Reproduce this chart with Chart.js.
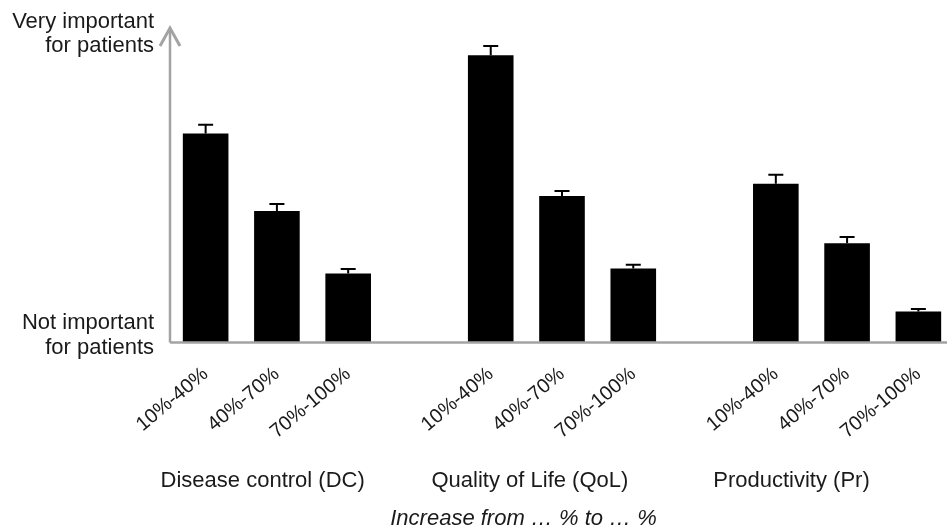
<!DOCTYPE html>
<html>
<head>
<meta charset="utf-8">
<script src="https://cdn.jsdelivr.net/npm/chart.js@4.4.1/dist/chart.umd.min.js"></script>
<style>
  html, body { margin: 0; padding: 0; background: #fff; overflow: hidden; }
  #wrap { width: 954px; height: 529px; position: relative; }
</style>
</head>
<body>
<div id="wrap"><canvas id="c"></canvas></div>
<script>
// ---- Data (0 = not important, 100 = very important) ----
const groups = ['Disease control (DC)', 'Quality of Life (QoL)', 'Productivity (Pr)'];
const ranges = ['10%-40%', '40%-70%', '70%-100%'];
const dcValues  = [66.9, 42.1, 22.1];
const qolValues = [91.9, 46.9, 23.7];
const prValues  = [50.8, 31.8, 9.9];
const dcErrors  = [2.8, 2.2, 1.4];
const qolErrors = [3.0, 1.6, 1.2];
const prErrors  = [2.9, 2.0, 0.8];
const yTopLabel = ['Very important', 'for patients'];
const yBottomLabel = ['Not important', 'for patients'];
const xTitle = 'Increase from \u2026 % to \u2026 %';

// Build category table with an empty spacer slot between groups
const seriesValues = [dcValues, qolValues, prValues];
const seriesErrors = [dcErrors, qolErrors, prErrors];
const labels = [], values = [], errors = [];
seriesValues.forEach((vals, g) => {
  if (g > 0) { labels.push(''); values.push(null); errors.push(null); }
  vals.forEach((v, i) => { labels.push(ranges[i]); values.push(v); errors.push(seriesErrors[g][i]); });
});

const FONT = '"Liberation Sans", Arial, sans-serif';
const AXIS_COLOR = '#a3a3a3';
const TEXT_COLOR = '#1a1a1a';

const decorPlugin = {
  id: 'decor',
  afterDatasetsDraw(chart) {
    const ctx = chart.ctx;
    const area = chart.chartArea;
    const ys = chart.scales.y;
    const xs = chart.scales.x;
    const meta = chart.getDatasetMeta(0);
    // error bars (upper half with cap)
    ctx.save();
    ctx.strokeStyle = '#000';
    ctx.lineWidth = 2;
    meta.data.forEach((bar, i) => {
      if (values[i] == null) return;
      const yTop = ys.getPixelForValue(values[i] + errors[i]);
      ctx.beginPath();
      ctx.moveTo(bar.x, bar.y);
      ctx.lineTo(bar.x, yTop);
      ctx.moveTo(bar.x - 7.5, yTop);
      ctx.lineTo(bar.x + 7.5, yTop);
      ctx.stroke();
    });
    ctx.restore();

    // axes
    ctx.save();
    ctx.strokeStyle = AXIS_COLOR;
    ctx.lineWidth = 2.5;
    ctx.lineCap = 'butt';
    ctx.beginPath();
    ctx.moveTo(area.left, area.bottom);
    ctx.lineTo(chart.width, area.bottom);
    ctx.stroke();
    ctx.beginPath();
    ctx.moveTo(area.left, area.bottom);
    ctx.lineTo(area.left, area.top - 2);
    ctx.stroke();
    ctx.lineWidth = 3;
    ctx.lineJoin = 'miter';
    ctx.beginPath();
    ctx.moveTo(area.left - 10, area.top + 16);
    ctx.lineTo(area.left, area.top - 2);
    ctx.lineTo(area.left + 10, area.top + 16);
    ctx.stroke();
    ctx.restore();

    // texts
    ctx.save();
    ctx.fillStyle = TEXT_COLOR;
    ctx.font = '22px ' + FONT;
    ctx.textAlign = 'right';
    ctx.textBaseline = 'alphabetic';
    const yHi = ys.getPixelForValue(100);
    const yLo = ys.getPixelForValue(0);
    ctx.fillText(yTopLabel[0], area.left - 16, yHi - 2);
    ctx.fillText(yTopLabel[1], area.left - 16, yHi + 22);
    ctx.fillText(yBottomLabel[0], area.left - 16, yLo - 14);
    ctx.fillText(yBottomLabel[1], area.left - 16, yLo + 11);

    ctx.textAlign = 'center';
    const groupPos = [0.80, 4.55, 8.22];
    groups.forEach((g, i) => {
      ctx.fillText(g, xs.getPixelForValue(groupPos[i]), 487);
    });
    ctx.font = 'italic 22px ' + FONT;
    ctx.fillText(xTitle, xs.getPixelForValue(4.46), 525);
    ctx.restore();
  }
};

new Chart(document.getElementById('c'), {
  type: 'bar',
  data: {
    labels: labels,
    datasets: [{
      data: values,
      backgroundColor: '#000',
      borderWidth: 0,
      barPercentage: 0.64,
      categoryPercentage: 1.0
    }]
  },
  options: {
    responsive: true,
    maintainAspectRatio: false,
    animation: false,
    events: [],
    layout: { padding: { top: 30, left: 0, right: 0, bottom: 0 } },
    plugins: { legend: { display: false }, tooltip: { enabled: false } },
    scales: {
      x: {
        grid: { display: false, drawTicks: false },
        border: { display: false },
        ticks: {
          color: TEXT_COLOR,
          font: { family: FONT, size: 20 },
          minRotation: 40,
          maxRotation: 40,
          padding: 20,
          autoSkip: false
        },
        afterFit(scale) { scale.height = 186.5; }
      },
      y: {
        min: 0,
        max: 100,
        grid: { display: false, drawTicks: false },
        border: { display: false },
        ticks: { display: false },
        afterFit(scale) { scale.width = 170; }
      }
    }
  },
  plugins: [decorPlugin]
});
</script>
</body>
</html>
